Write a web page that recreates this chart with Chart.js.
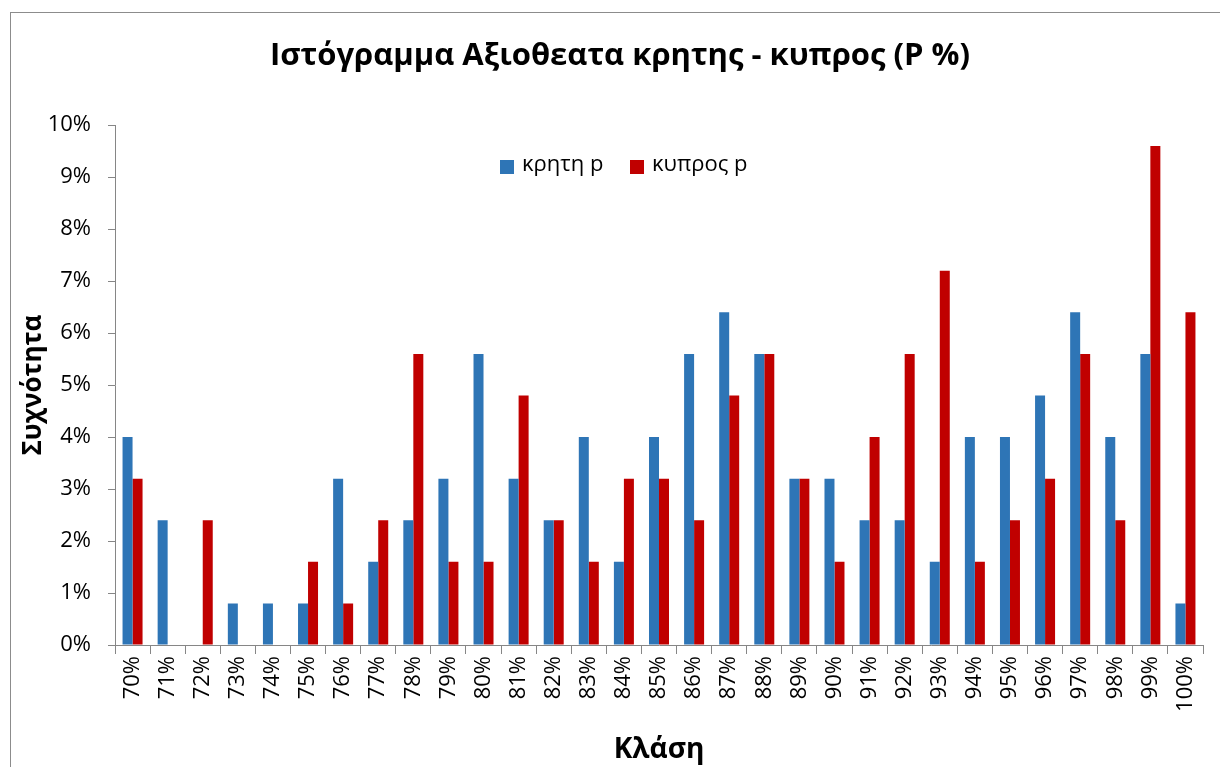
<!DOCTYPE html>
<html>
<head>
<meta charset="utf-8">
<script src="https://cdn.jsdelivr.net/npm/chart.js@4/dist/chart.umd.min.js"></script>
<style>
  body { margin: 0; background: #fff; }
  #wrap { width: 1220px; height: 767px; position: relative; }
</style>
</head>
<body>
<div id="wrap"><canvas id="histChart" width="1220" height="767"></canvas></div>
<script>
const classes = ['70%','71%','72%','73%','74%','75%','76%','77%','78%','79%','80%','81%','82%','83%','84%','85%',
  '86%','87%','88%','89%','90%','91%','92%','93%','94%','95%','96%','97%','98%','99%','100%'];
const kritiP = [4.0,2.4,0,0.8,0.8,0.8,3.2,1.6,2.4,3.2,5.6,3.2,2.4,4.0,1.6,4.0,5.6,6.4,5.6,3.2,3.2,2.4,2.4,1.6,4.0,4.0,4.8,6.4,4.0,5.6,0.8];
const kyprosP = [3.2,0,2.4,0,0,1.6,0.8,2.4,5.6,1.6,1.6,4.8,2.4,1.6,3.2,3.2,2.4,4.8,5.6,3.2,1.6,4.0,5.6,7.2,1.6,2.4,3.2,5.6,2.4,9.6,6.4];
const seriesNames = ['κρητη p', 'κυπρος p'];
const seriesColors = ['#2E75B6', '#C00000'];

const FONT = "'Open Sans', 'Noto Sans', sans-serif";
const axisGrey = '#868686';

// frame + legend drawn on top of the chart
const extras = {
  id: 'extras',
  beforeDraw(chart) {
    const ctx = chart.ctx;
    ctx.save();
    ctx.fillStyle = '#fff';
    ctx.fillRect(0, 0, chart.width, chart.height);
    ctx.strokeStyle = '#8c8c8c';
    ctx.lineWidth = 1;
    ctx.strokeRect(10.5, 12.5, 1230, 800);
    ctx.restore();
  },
  afterDraw(chart) {
    const ctx = chart.ctx;
    ctx.save();
    ctx.font = '22px ' + FONT;
    ctx.textBaseline = 'middle';
    const xs = [500, 630];
    seriesNames.forEach((name, i) => {
      ctx.fillStyle = seriesColors[i];
      ctx.fillRect(xs[i], 160, 14, 14);
      ctx.fillStyle = '#000';
      ctx.fillText(name, xs[i] + 22, 165);
    });
    ctx.restore();
  }
};

new Chart(document.getElementById('histChart'), {
  type: 'bar',
  data: {
    labels: classes,
    datasets: [
      { label: seriesNames[0], data: kritiP, backgroundColor: seriesColors[0] },
      { label: seriesNames[1], data: kyprosP, backgroundColor: seriesColors[1] }
    ]
  },
  options: {
    responsive: false,
    animation: false,
    devicePixelRatio: 1,
    datasets: { bar: { categoryPercentage: 0.57, barPercentage: 1.0 } },
    layout: { padding: { left: 37, top: 0, right: 17, bottom: 0 } },
    plugins: {
      legend: { display: false },
      tooltip: { enabled: false },
      title: {
        display: true,
        text: 'Ιστόγραμμα Αξιοθεατα κρητης - κυπρος (P %)',
        color: '#000',
        font: { family: FONT, size: 31, weight: 'bold' },
        padding: { top: 38, bottom: 50 }
      }
    },
    scales: {
      x: {
        grid: { offset: true, drawOnChartArea: false, color: axisGrey, tickLength: 9 },
        border: { color: axisGrey },
        ticks: { color: '#000', font: { family: FONT, size: 22 }, minRotation: 90, maxRotation: 90, autoSkip: false, padding: 2 },
        title: { display: true, text: 'Κλάση', color: '#000', font: { family: FONT, size: 28, weight: 'bold' }, padding: { top: 0, bottom: 0 } },
        afterFit(scale) { scale.height = 767 - 645; }
      },
      y: {
        min: 0, max: 10,
        grid: { drawOnChartArea: false, color: axisGrey, tickLength: 7 },
        border: { color: axisGrey },
        ticks: { stepSize: 1, color: '#000', font: { family: FONT, size: 22 }, padding: 17,
          callback: v => v + '%' },
        title: { display: true, text: 'Συχνότητα', color: '#000', font: { family: FONT, size: 26, weight: 'bold' }, padding: { top: -19, bottom: 0 } },
        afterFit(scale) { scale.width = 115 - 37; }
      }
    }
  },
  plugins: [extras]
});
</script>
</body>
</html>
